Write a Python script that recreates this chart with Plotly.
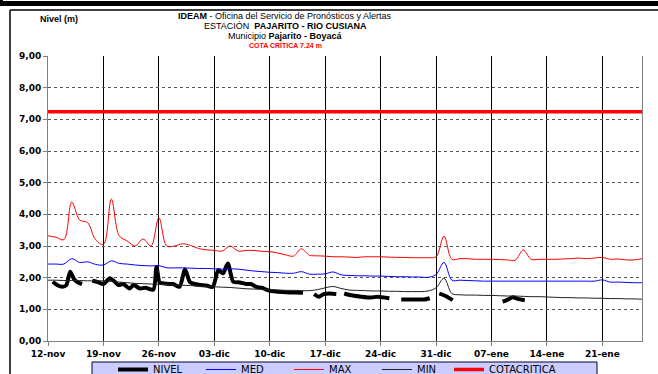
import plotly.graph_objects as go
import pandas as pd

INICIO = pd.Timestamp("2012-11-12")
FECHAS = pd.date_range(INICIO, periods=76, freq="D")

MAX = [3.32, 3.28, 3.20, 4.39, 3.82, 3.74, 3.20, 3.05, 4.48, 3.32,
       3.16, 3.00, 3.22, 3.00, 3.89, 3.00, 3.00, 3.07, 3.02, 2.92,
       2.88, 2.86, 2.84, 3.00, 2.84, 2.86, 2.86, 2.83, 2.82, 2.78,
       2.72, 2.68, 2.91, 2.71, 2.69, 2.68, 2.66, 2.66, 2.65, 2.64,
       2.66, 2.66, 2.66, 2.65, 2.64, 2.64, 2.63, 2.63, 2.63, 2.66,
       3.31, 2.58, 2.60, 2.60, 2.58, 2.58, 2.58, 2.57, 2.56, 2.55,
       2.87, 2.58, 2.58, 2.58, 2.58, 2.59, 2.60, 2.62, 2.60, 2.62,
       2.64, 2.58, 2.59, 2.56, 2.56, 2.60]

MED = [2.43, 2.43, 2.43, 2.60, 2.48, 2.50, 2.42, 2.40, 2.53, 2.45,
       2.43, 2.40, 2.38, 2.37, 2.38, 2.31, 2.31, 2.31, 2.30, 2.29,
       2.29, 2.28, 2.27, 2.28, 2.27, 2.24, 2.21, 2.19, 2.17, 2.16,
       2.14, 2.14, 2.19, 2.11, 2.11, 2.12, 2.18, 2.09, 2.07, 2.06,
       2.06, 2.05, 2.05, 2.04, 2.03, 2.03, 2.02, 2.02, 2.01, 2.10,
       2.48, 1.92, 1.92, 1.91, 1.90, 1.89, 1.89, 1.89, 1.89, 1.89,
       1.89, 1.89, 1.89, 1.89, 1.89, 1.89, 1.89, 1.89, 1.89, 1.89,
       1.93, 1.86, 1.86, 1.85, 1.84, 1.84]

MIN = [1.92, 1.92, 1.91, 1.91, 1.91, 1.90, 1.90, 1.90, 1.88, 1.86,
       1.84, 1.82, 1.81, 1.80, 1.79, 1.78, 1.77, 1.76, 1.75, 1.73,
       1.72, 1.71, 1.70, 1.69, 1.67, 1.65, 1.64, 1.63, 1.62, 1.61,
       1.60, 1.60, 1.59, 1.59, 1.62, 1.68, 1.72, 1.66, 1.61, 1.60,
       1.59, 1.58, 1.58, 1.57, 1.57, 1.56, 1.56, 1.56, 1.58, 1.68,
       1.98, 1.50, 1.46, 1.45, 1.45, 1.44, 1.44, 1.43, 1.42, 1.42,
       1.41, 1.40, 1.40, 1.39, 1.38, 1.37, 1.37, 1.36, 1.36, 1.35,
       1.35, 1.34, 1.34, 1.33, 1.33, 1.32]

COTA_CRITICA = 7.24

# lecturas del nivel (dias desde el 12-nov); None = sin dato
NIVEL_DIA = [0.6, 1.2, 1.8, 2.3, 2.8, 3.3, 3.8, 4.3, 4.9,
             5.6, 6.3, 7.0, 7.8, 8.4, 8.9, 9.5, 10.3, 10.8, 11.6, 12.3,
             13.3, 13.7, 14.1, 14.6, 15.3, 15.8, 16.6, 17.3, 17.9, 18.5,
             19.2, 20.0, 20.8, 21.5, 22.1, 22.7, 23.4, 24.2, 25.0, 25.6,
             26.3, 27.0, 27.8, 28.8, 30.0, 31.0, 32.2, 33.0,
             33.6, 34.2, 34.8, 35.6, 36.4, 36.9,
             37.4, 38.1, 39.5, 40.8, 41.6, 43.1, 43.8,
             44.6, 46.1, 47.5, 48.2, 48.8,
             49.4, 50.2, 51.1, 54.0,
             57.4, 58.0, 58.7, 59.3, 60.2]
NIVEL = [1.87, 1.76, 1.71, 1.76, 2.19, 1.95, 1.85, 1.80, None,
         1.90, 1.86, 1.80, 1.98, 1.88, 1.77, 1.80, 1.66, 1.77, 1.66, 1.68,
         1.62, 2.34, 1.85, 1.82, 1.80, 1.80, 1.71, 2.26, 1.87, 1.80,
         1.77, 1.75, 1.71, 2.24, 2.14, 2.45, 1.87, 1.85, 1.80, 1.80,
         1.71, 1.68, 1.60, 1.56, 1.54, 1.53, 1.52, None,
         1.48, 1.40, 1.48, 1.50, 1.48, None,
         1.50, 1.45, 1.40, 1.37, 1.40, 1.35, None,
         1.31, 1.31, 1.31, 1.35, None,
         1.50, 1.42, 1.29, None,
         1.24, 1.30, 1.38, 1.33, 1.29]

TICK_FECHAS = pd.date_range(INICIO, periods=11, freq="7D")
TICK_TEXTO = ["12-nov", "19-nov", "26-nov", "03-dic", "10-dic", "17-dic",
              "24-dic", "31-dic", "07-ene", "14-ene", "21-ene"]
Y_TICKS = [0, 1, 2, 3, 4, 5, 6, 7, 8, 9]
Y_TEXTO = ["0,00", "1,00", "2,00", "3,00", "4,00", "5,00", "6,00",
           "7,00", "8,00", "9,00"]

W, H = 658, 374
L, R, T, B = 48, 16, 56, 33
PW, PH = W - L - R, H - T - B


def xp(px):
    return (px - L) / PW


def yp(py):
    return (H - B - py) / PH


nivel_x = [INICIO + pd.to_timedelta(d, unit="D") for d in NIVEL_DIA]

fig = go.Figure()
fig.add_trace(go.Scatter(x=nivel_x, y=NIVEL, name="NIVEL", mode="lines",
                         line=dict(color="#000000", width=4, shape="spline",
                                   smoothing=0.7),
                         connectgaps=False))
fig.add_trace(go.Scatter(x=FECHAS, y=MED, name="MED", mode="lines",
                         line=dict(color="#0000ff", width=1, shape="spline")))
fig.add_trace(go.Scatter(x=FECHAS, y=MAX, name="MAX", mode="lines",
                         line=dict(color="#ff0000", width=1, shape="spline")))
fig.add_trace(go.Scatter(x=FECHAS, y=MIN, name="MIN", mode="lines",
                         line=dict(color="#222222", width=1, shape="spline")))
fig.add_trace(go.Scatter(x=FECHAS, y=[COTA_CRITICA] * len(FECHAS),
                         name="COTACRITICA", mode="lines", legend="legend2",
                         line=dict(color="#ff0000", width=3.5)))

TITLE_FONT = dict(family="Arial, Liberation Sans, sans-serif", size=9,
                  color="#000000")
annotations = [
    dict(text="<b>IDEAM</b> - Oficina del Servicio de Pronósticos y Alertas",
         x=xp(285), y=yp(16)),
    dict(text="ESTACIÓN  <b>PAJARITO - RIO CUSIANA</b>", x=xp(285), y=yp(26)),
    dict(text="Municipio <b>Pajarito - Boyacá</b>", x=xp(285), y=yp(36)),
    dict(text="<b>COTA CRÍTICA 7.24 m</b>", x=xp(285), y=yp(45),
         font=dict(family="Arial, Liberation Sans, sans-serif", size=7,
                   color="#ff0000")),
    dict(text="<b>Nivel (m)</b>", x=xp(59), y=yp(19)),
]
for a in annotations:
    a.setdefault("font", TITLE_FONT)
    a.update(xref="paper", yref="paper", showarrow=False,
             xanchor="center", yanchor="middle")

shapes = [
    # marco exterior
    dict(type="rect", x0=xp(0), x1=xp(658), y0=yp(1), y1=yp(6),
         fillcolor="#000000", line=dict(width=0)),
    dict(type="rect", x0=xp(0), x1=xp(3), y0=yp(0), y1=yp(6),
         fillcolor="#000000", line=dict(width=0)),
    dict(type="line", x0=xp(10), x1=xp(658), y0=yp(10), y1=yp(10),
         line=dict(color="#000000", width=1.5)),
    dict(type="line", x0=xp(10), x1=xp(10), y0=yp(10), y1=yp(374),
         line=dict(color="#000000", width=1.5)),
    # caja de la leyenda
    dict(type="rect", x0=xp(92), x1=xp(597), y0=yp(362), y1=yp(380),
         fillcolor="#ccccff", line=dict(color="#000033", width=1),
         layer="below"),
]
for s in shapes:
    s.update(xref="paper", yref="paper")

LEGEND_FONT = dict(family="DejaVu Sans, sans-serif", size=10, color="#000000")

fig.update_layout(
    width=W, height=H,
    paper_bgcolor="#ffffff", plot_bgcolor="rgba(0,0,0,0)",
    margin=dict(l=L, r=R, t=T, b=B, autoexpand=False),
    font=dict(family="Arial, Liberation Sans, sans-serif", color="#000000"),
    annotations=annotations,
    shapes=shapes,
    showlegend=True,
    legend=dict(orientation="h", x=xp(113), y=yp(355), xanchor="left",
                yanchor="top", bgcolor="rgba(0,0,0,0)", borderwidth=0,
                entrywidth=43, entrywidthmode="pixels", font=LEGEND_FONT),
    legend2=dict(orientation="h", x=xp(449), y=yp(355), xanchor="left",
                 yanchor="top", bgcolor="rgba(0,0,0,0)", borderwidth=0,
                 font=LEGEND_FONT),
)

fig.update_xaxes(
    range=[INICIO, INICIO + pd.Timedelta(days=75)],
    tickvals=TICK_FECHAS, ticktext=TICK_TEXTO,
    showgrid=True, gridcolor="#000000", gridwidth=1,
    showline=True, linecolor="#808080", linewidth=1,
    ticks="outside", ticklen=4, tickcolor="#808080",
    tickfont=dict(family="DejaVu Sans, sans-serif", size=9, weight="bold",
                  color="#000000"),
    zeroline=False,
)
fig.update_yaxes(
    range=[0, 9], tickvals=Y_TICKS, ticktext=Y_TEXTO,
    showgrid=True, gridcolor="#555555", gridwidth=1, griddash="dot",
    showline=True, linecolor="#808080", linewidth=1, mirror=True,
    ticks="outside", ticklen=4, tickcolor="#808080",
    tickfont=dict(family="DejaVu Sans, sans-serif", size=9, weight="bold",
                  color="#000000"),
    zeroline=False,
)

fig.write_html("out.html", config={"displayModeBar": False},
               post_script="document.body.style.margin = '0';")
